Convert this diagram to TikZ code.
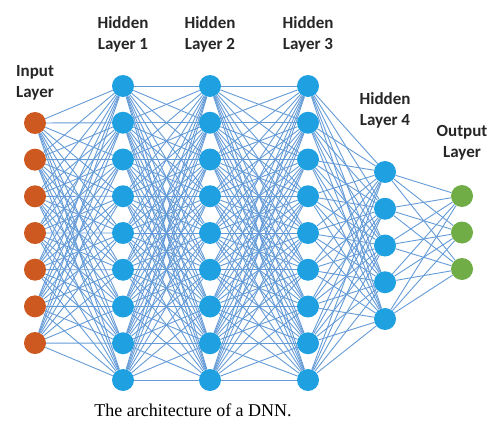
\documentclass[tikz,border=0pt]{standalone}
\usepackage{fontspec}
\setmainfont{Liberation Serif}
\newfontfamily\labelfont{Carlito}
\usetikzlibrary{backgrounds}
\definecolor{inorange}{RGB}{205,88,32}
\definecolor{hidblue}{RGB}{30,160,225}
\definecolor{outgreen}{RGB}{112,173,71}
\definecolor{edgeblue}{RGB}{100,155,215}
\begin{document}
\begin{tikzpicture}[x=1pt, y=-1pt,
        nd/.style={circle, minimum size=22pt, inner sep=0pt},
        ed/.style={edgeblue, line width=0.9pt},
        lbl/.style={font=\labelfont\bfseries\fontsize{17}{21}\selectfont, align=center, text=black!85}
      ]
      \useasboundingbox (0,0) rectangle (495,425);
      % layers
      \foreach \i in {1,...,7} {
        \node[nd, fill=inorange] (in\i) at (35,{123+36.67*(\i-1)}) {};
      }
      \foreach \x [count=\l] in {123,210,308} {
        \foreach \i in {1,...,9} {
          \node[nd, fill=hidblue] (h\l-\i) at (\x,{86+36.75*(\i-1)}) {};
        }
      }
      \foreach \i in {1,...,5} {
        \node[nd, fill=hidblue] (h4-\i) at (385,{172+36.75*(\i-1)}) {};
      }
      \foreach \i in {1,...,3} {
        \node[nd, fill=outgreen] (out\i) at (462,{196+36.5*(\i-1)}) {};
      }
      % connections
      \begin{pgfonlayer}{background}
        \foreach \i in {1,...,7} {
          \foreach \j in {1,...,9} {
            \draw[ed] (in\i) -- (h1-\j);
          }
        }
        \foreach \p/\q in {1/2,2/3} {
          \foreach \i in {1,...,9} {
            \foreach \j in {1,...,9} {
              \draw[ed] (h\p-\i) -- (h\q-\j);
            }
          }
        }
        \foreach \i in {1,...,9} {
          \foreach \j in {1,...,5} {
            \draw[ed] (h3-\i) -- (h4-\j);
          }
        }
        \foreach \i in {1,...,5} {
          \foreach \j in {1,...,3} {
            \draw[ed] (h4-\i) -- (out\j);
          }
        }
      \end{pgfonlayer}
      % labels
      \node[lbl] (lin) at (35,83) {Input\\Layer};
      \node[lbl] (lh1) at (123,34) {Hidden\\Layer 1};
      \node[lbl] (lh2) at (210,34) {Hidden\\Layer 2};
      \node[lbl] (lh3) at (308,34) {Hidden\\Layer 3};
      \node[lbl] (lh4) at (385,110) {Hidden\\Layer 4};
      \node[lbl] (lout) at (462,143) {Output\\Layer};
      \node[font=\fontsize{18}{20}\selectfont] (cap) at (193,410) {The architecture of a DNN.};
    \end{tikzpicture}
\end{document}
